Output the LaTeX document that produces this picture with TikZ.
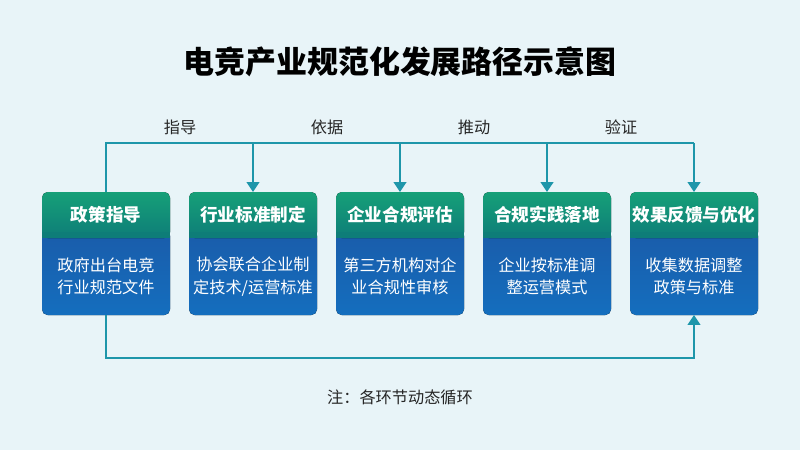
\documentclass[tikz,border=0pt]{standalone}
\usepackage{fontspec}
\setmainfont{Noto Sans CJK SC}
\usetikzlibrary{arrows.meta}
\definecolor{bgc}{RGB}{232,244,248}
\definecolor{headA}{RGB}{22,160,120}
\definecolor{headB}{RGB}{14,125,120}
\definecolor{bodyA}{RGB}{26,92,170}
\definecolor{bodyB}{RGB}{20,110,190}
\definecolor{flow}{RGB}{30,150,170}
\begin{document}
\begin{tikzpicture}
[x=0.025cm, y=-0.025cm, every node/.style={color=black},
 head/.style={text=white, font=\bfseries\fontsize{12.5}{14}\selectfont},
 body/.style={text=white, align=center, font=\fontsize{11.5}{16}\selectfont},
 flowline/.style={flow, line width=1.2pt},
 tag/.style={font=\fontsize{11.5}{13}\selectfont, text=black!85}]
    \fill[bgc] (0,0) rectangle (800,450);
    % title
    \node[font=\bfseries\fontsize{22}{26}\selectfont] (title) at (400,62) {电竞产业规范化发展路径示意图};
    % boxes
    \foreach \i/\x/\h/\b in {1/106/政策指导/{政府出台电竞\\行业规范文件},
        2/253/行业标准制定/{协会联合企业制\\定技术/运营标准},
        3/400/企业合规评估/{第三方机构对企\\业合规性审核},
        4/547/合规实践落地/{企业按标准调\\整运营模式},
        5/694/效果反馈与优化/{收集数据调整\\政策与标准}} {
        \fill[rounded corners=4pt, top color=bodyA, bottom color=bodyB] (\x-64,230) rectangle (\x+64,315);
        \fill[rounded corners=4pt, top color=headA, bottom color=headB] (\x-64,192) rectangle (\x+64,238);
        \fill[headB] (\x-64,232) rectangle (\x+64,238);
        \node[head] (h\i) at (\x,215) {\h};
        \node[body] (b\i) at (\x,276.5) {\b};
    }
    % top flow
    \coordinate (t1) at (106,143);
    \coordinate (t5) at (694,143);
    \draw[flowline] (106,192) -- (t1) -- (t5);
    \foreach \i in {2,...,5}
        \draw[flowline, -{Triangle[length=7pt, width=9pt]}] (h\i |- t1) -- ++(0,49);
    % bottom flow
    \coordinate (d1) at (106,358);
    \coordinate (d5) at (694,358);
    \draw[flowline, -{Triangle[length=7pt, width=9pt]}] (106,315) -- (d1) -- (d5) -- (694,315);
    % labels
    \foreach \i/\x/\t in {1/180/指导, 2/327/依据, 3/474/推动, 4/621/验证}
        \node[tag] (l\i) at (\x,127) {\t};
    \node[tag] (note) at (400,397) {注：各环节动态循环};
\end{tikzpicture}
\end{document}
